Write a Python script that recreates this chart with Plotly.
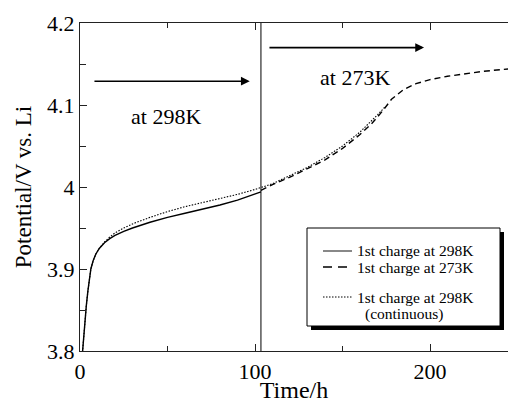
import plotly.graph_objects as go

# ---- data ----
t_298 = [1.3, 1.8, 2.3, 3.0, 3.6, 4.5, 5.3, 6.2, 7.5, 9.0, 11, 14, 17, 20, 25, 30, 40, 50, 60, 70, 80, 90, 100, 103.4]
v_298 = [3.795, 3.81, 3.823, 3.84, 3.855, 3.873, 3.888, 3.900, 3.910, 3.918, 3.925, 3.932, 3.937, 3.941, 3.946, 3.950, 3.957, 3.963, 3.968, 3.973, 3.978, 3.984, 3.991, 3.994]

t_273 = [103.4, 110, 120, 130, 140, 150, 160, 167, 173, 178, 185, 192, 200, 210, 220, 230, 245]
v_273 = [3.996, 4.003, 4.012, 4.022, 4.033, 4.047, 4.064, 4.078, 4.093, 4.107, 4.119, 4.126, 4.131, 4.135, 4.138, 4.141, 4.144]

t_cont = [1.3, 1.8, 2.3, 3.0, 3.6, 4.5, 5.3, 6.2, 7.5, 9.0, 11, 14, 17, 20, 25, 30, 40, 50, 60, 70, 80, 90, 100, 110, 120, 130, 140, 150, 160, 166, 170, 174]
v_cont = [3.795, 3.81, 3.823, 3.84, 3.855, 3.873, 3.888, 3.900, 3.910, 3.918, 3.925, 3.933, 3.939, 3.944, 3.950, 3.955, 3.963, 3.970, 3.976, 3.981, 3.986, 3.991, 3.997, 4.004, 4.014, 4.024, 4.036, 4.050, 4.067, 4.079, 4.088, 4.097]

switch_time = 103.4

labels = ["at 298K", "at 273K"]
label_t = [49, 157]
label_v = [4.086, 4.134]
arrow_t0 = [7.4, 107.4]
arrow_t1 = [97, 196.6]
arrow_v = [4.129, 4.170]

legend_names = ["1st charge at 298K", "1st charge at 273K", "1st charge at 298K"]

FONT = "Liberation Serif, Times New Roman, serif"
W, H = 508, 403
L, R, T, B = 80, 0, 23, 52
PW, PH = W - L - R, H - T - B


def px(x):
    return (x - L) / PW


def py(y):
    return (H - B - y) / PH


fig = go.Figure()
fig.add_trace(go.Scatter(x=t_298, y=v_298, mode="lines", name=legend_names[0],
                         line=dict(color="black", width=1.4), showlegend=False))
fig.add_trace(go.Scatter(x=t_273, y=v_273, mode="lines", name=legend_names[1],
                         line=dict(color="black", width=1.4, dash="6px,4px"), showlegend=False))
fig.add_trace(go.Scatter(x=t_cont, y=v_cont, mode="lines", name=legend_names[2] + " (continuous)",
                         line=dict(color="black", width=1.1, dash="1.5px,1.5px"), showlegend=False))

# vertical switch line
fig.add_vline(x=switch_time, line=dict(color="black", width=1))

# arrows and labels
for i in range(2):
    fig.add_annotation(x=arrow_t1[i], y=arrow_v[i], ax=arrow_t0[i], ay=arrow_v[i],
                       xref="x", yref="y", axref="x", ayref="y", text="",
                       showarrow=True, arrowhead=2, arrowsize=1.1, arrowwidth=1.6,
                       arrowcolor="black")
    fig.add_annotation(x=label_t[i], y=label_v[i], xref="x", yref="y", text=labels[i],
                       showarrow=False, font=dict(family=FONT, size=22, color="black"))

# custom legend box with shadow
fig.add_shape(type="rect", xref="paper", yref="paper",
              x0=px(311), x1=px(504), y0=py(232), y1=py(330),
              fillcolor="black", line=dict(width=0), layer="above")
fig.add_shape(type="rect", xref="paper", yref="paper",
              x0=px(307), x1=px(500), y0=py(228), y1=py(326),
              fillcolor="white", line=dict(color="black", width=1), layer="above")
sample_styles = [dict(color="#555", width=1.4), dict(color="black", width=1.4, dash="9px,6px"),
                 dict(color="black", width=1, dash="1.5px,1.5px")]
rows = [251, 267, 297]
for i in range(3):
    fig.add_shape(type="line", xref="paper", yref="paper", x0=px(323), x1=px(352),
                  y0=py(rows[i]), y1=py(rows[i]), line=sample_styles[i], layer="above")
    fig.add_annotation(x=px(355), y=py(rows[i]), xref="paper", yref="paper",
                       text=legend_names[i], showarrow=False, xanchor="left", yanchor="middle",
                       font=dict(family=FONT, size=15.5, color="black"))
fig.add_annotation(x=px(404), y=py(314), xref="paper", yref="paper", text="(continuous)",
                   showarrow=False, xanchor="center", yanchor="middle",
                   font=dict(family=FONT, size=15.5, color="black"))

axis_common = dict(showline=True, linecolor="#222", linewidth=1.3, ticks="inside",
                   tickcolor="#222", tickwidth=1.2, ticklen=7, showgrid=False, zeroline=False,
                   tickfont=dict(family=FONT, size=22, color="black"))
fig.update_xaxes(range=[0, PW / 1.75], tickvals=[0, 100, 200], mirror="ticks",
                 minor=dict(tickvals=[50, 150], ticks="inside", ticklen=5, tickcolor="#222", tickwidth=1.2),
                 title=dict(text="Time/h", font=dict(family=FONT, size=24, color="black"), standoff=6),
                 **axis_common)
fig.update_yaxes(range=[3.8, 4.2], tickvals=[3.8, 3.9, 4.0, 4.1, 4.2], ticktext=["3.8", "3.9", "4", "4.1", "4.2"],
                 mirror=False,
                 minor=dict(tickvals=[3.85, 3.95, 4.05, 4.15], ticks="inside", ticklen=6, tickcolor="#222", tickwidth=1.2),
                 title=dict(text="Potential/V vs. Li", font=dict(family=FONT, size=23, color="black"), standoff=8),
                 **axis_common)

fig.update_layout(width=W, height=H, margin=dict(l=L, r=R, t=T, b=B, autoexpand=False),
                  font=dict(family=FONT, color="black"),
                  plot_bgcolor="white", paper_bgcolor="white", showlegend=False)

fig.write_html("out.html")
